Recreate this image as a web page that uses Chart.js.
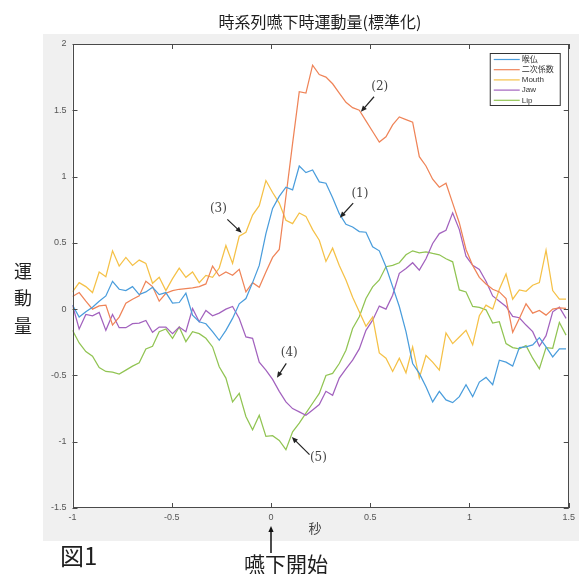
<!DOCTYPE html>
<html>
<head>
<meta charset="utf-8">
<title>時系列嚥下時運動量(標準化)</title>
<script src="https://cdn.jsdelivr.net/npm/chart.js@4.4.0/dist/chart.umd.min.js"></script>
<style>
  html, body { margin: 0; padding: 0; background: #ffffff; }
  #wrap { width: 579px; height: 574px; }
</style>
</head>
<body>
<div id="wrap"><canvas id="chart" width="579" height="574"></canvas></div>
<script>
// サンプリング (秒)
const t0 = -1;
const dt = 0.0336;

const seriesNames = ['喉仏', '二次係数', 'Mouth', 'Jaw', 'Lip'];
const seriesColors = ['#4a9ddc', '#ef8458', '#f5c147', '#a262be', '#91c453'];

// 喉仏
const throat = [
  0.03, -0.06, -0.02, 0.015, 0.06, 0.1, 0.21, 0.15, 0.14, 0.17,
  0.11, 0.13, 0.165, 0.11, 0.125, 0.045, 0.05, 0.12, -0.045, -0.095,
  -0.11, -0.17, -0.235, -0.16, -0.07, 0.04, 0.08, 0.2, 0.33, 0.57,
  0.76, 0.85, 0.92, 0.9, 1.08, 1.03, 1.05, 0.96, 0.95, 0.84,
  0.72, 0.64, 0.62, 0.585, 0.58, 0.47, 0.44, 0.32, 0.17, 0.02,
  -0.17, -0.41, -0.485, -0.585, -0.7, -0.62, -0.685, -0.705, -0.66, -0.57,
  -0.66, -0.55, -0.515, -0.57, -0.385, -0.4, -0.43, -0.29, -0.285, -0.27,
  -0.215, -0.285, -0.36, -0.3, -0.3
];
// 二次係数
const quadCoef = [
  0.095, 0.125, 0.06, 0.0, 0.025, 0.03, -0.12, -0.06, 0.045, 0.075,
  0.1, 0.21, 0.17, 0.06, 0.12, 0.14, 0.15, 0.155, 0.16, 0.17,
  0.19, 0.325, 0.25, 0.28, 0.255, 0.3, 0.13, 0.2, 0.165, 0.28,
  0.39, 0.45, 0.85, 1.25, 1.64, 1.63, 1.84, 1.77, 1.75, 1.7,
  1.63, 1.56, 1.52, 1.5, 1.42, 1.34, 1.26, 1.3, 1.39, 1.45,
  1.43, 1.41, 1.15, 1.08, 0.98, 0.92, 0.95, 0.8, 0.65, 0.45,
  0.33, 0.24, 0.19, 0.15, 0.13, 0.08, -0.175, -0.07, 0.04, -0.03,
  -0.01, -0.045, 0.0, 0.01, 0.005
];
// Mouth
const mouth = [
  0.13, 0.2, 0.17, 0.125, 0.28, 0.245, 0.44, 0.325, 0.39, 0.33,
  0.37, 0.345, 0.195, 0.24, 0.14, 0.23, 0.31, 0.24, 0.28, 0.2,
  0.255, 0.24, 0.31, 0.48, 0.345, 0.55, 0.58, 0.71, 0.78, 0.97,
  0.88, 0.8, 0.67, 0.645, 0.725, 0.7, 0.6, 0.52, 0.36, 0.46,
  0.33, 0.22, 0.09, -0.02, -0.13, -0.06, -0.33, -0.37, -0.47, -0.37,
  -0.48, -0.285, -0.52, -0.35, -0.4, -0.46, -0.18, -0.26, -0.21, -0.16,
  -0.27, -0.05, 0.03, 0.0, 0.15, 0.265, 0.075, 0.145, 0.135, 0.18,
  0.2, 0.445, 0.14, 0.075, 0.075
];
// Jaw
const jaw = [
  0.03, -0.15, -0.04, -0.05, -0.025, -0.16, -0.04, -0.14, -0.14, -0.11,
  -0.105, -0.085, -0.175, -0.135, -0.135, -0.185, -0.135, -0.17, 0.005, -0.095,
  -0.01, -0.05, -0.03, 0.0, 0.02, -0.07, -0.21, -0.22, -0.4, -0.46,
  -0.53, -0.62, -0.7, -0.75, -0.775, -0.8, -0.76, -0.72, -0.62, -0.65,
  -0.52, -0.45, -0.385, -0.3, -0.16, -0.083, 0.023, 0.0, 0.105, 0.27,
  0.307, 0.35, 0.294, 0.38, 0.495, 0.57, 0.595, 0.726, 0.6, 0.4,
  0.33, 0.3, 0.21, 0.1, 0.06, 0.02, -0.055, -0.065, -0.12, -0.17,
  -0.28, -0.2, -0.02, 0.015, -0.07
];
// Lip
const lip = [
  -0.16, -0.255, -0.32, -0.355, -0.44, -0.47, -0.475, -0.49, -0.46, -0.43,
  -0.405, -0.3, -0.28, -0.17, -0.15, -0.22, -0.135, -0.245, -0.17, -0.185,
  -0.22, -0.285, -0.435, -0.52, -0.7, -0.635, -0.81, -0.91, -0.8, -0.96,
  -0.955, -0.99, -1.06, -0.925, -0.86, -0.785, -0.71, -0.636, -0.5, -0.485,
  -0.41, -0.31, -0.146, -0.058, 0.08, 0.168, 0.22, 0.32, 0.33, 0.35,
  0.41, 0.44, 0.425, 0.432, 0.42, 0.41, 0.38, 0.357, 0.145, 0.13,
  0.02, 0.013, -0.005, -0.105, -0.095, -0.26, -0.29, -0.3, -0.275, -0.37,
  -0.45, -0.29, -0.295, -0.1, -0.196
];

const xTicks = [-1, -0.5, 0, 0.5, 1, 1.5];
const yTicks = [2, 1.5, 1, 0.5, 0, -0.5, -1, -1.5];

// 注釈 (データ座標): テキスト位置, 矢印の始点, 矢印の先端
const notes = [
  { text: '(1)', tx: 0.448, ty: 0.873, sx: 0.414, sy: 0.80, hx: 0.347, hy: 0.69 },
  { text: '(2)', tx: 0.548, ty: 1.677, sx: 0.519, sy: 1.602, hx: 0.453, hy: 1.489 },
  { text: '(3)', tx: -0.265, ty: 0.755, sx: -0.22, sy: 0.677, hx: -0.148, hy: 0.576 },
  { text: '(4)', tx: 0.092, ty: -0.329, sx: 0.077, sy: -0.409, hx: 0.03, hy: -0.517 },
  { text: '(5)', tx: 0.239, ty: -1.124, sx: 0.194, sy: -1.097, hx: 0.105, hy: -0.965 }
];

const allSeries = [throat, quadCoef, mouth, jaw, lip];
const times = throat.map((_, i) => t0 + i * dt);

function drawArrow(ctx, x1, y1, x2, y2) {
    const ang = Math.atan2(y2 - y1, x2 - x1);
    const len = 6, wid = 2.6;
    ctx.beginPath();
    ctx.moveTo(x1, y1);
    ctx.lineTo(x2 - Math.cos(ang) * len * 0.6, y2 - Math.sin(ang) * len * 0.6);
    ctx.stroke();
    ctx.beginPath();
    ctx.moveTo(x2, y2);
    ctx.lineTo(x2 - Math.cos(ang) * len - Math.sin(ang) * wid, y2 - Math.sin(ang) * len + Math.cos(ang) * wid);
    ctx.lineTo(x2 - Math.cos(ang) * len + Math.sin(ang) * wid, y2 - Math.sin(ang) * len - Math.cos(ang) * wid);
    ctx.closePath();
    ctx.fill();
}

const figurePlugin = {
    id: 'figureDecor',
    beforeDraw(chart) {
        const ctx = chart.ctx;
        const a = chart.chartArea;
        ctx.save();
        ctx.fillStyle = '#ffffff';
        ctx.fillRect(0, 0, chart.width, chart.height);
        // MATLAB風の灰色パネル
        ctx.fillStyle = '#f0f0f0';
        ctx.fillRect(43, 34, chart.width - 43, 507);
        ctx.fillStyle = '#ffffff';
        ctx.fillRect(a.left, a.top, a.right - a.left, a.bottom - a.top);
        ctx.restore();
    },
    afterDatasetsDraw(chart) {
        const ctx = chart.ctx;
        const a = chart.chartArea;
        const xs = chart.scales.x, ys = chart.scales.y;
        ctx.save();

        // 枠と内向きの目盛り
        ctx.strokeStyle = '#4a4a4a';
        ctx.lineWidth = 1;
        ctx.strokeRect(Math.round(a.left) + 0.5, Math.round(a.top) + 0.5,
            Math.round(a.right - a.left) - 1, Math.round(a.bottom - a.top) - 1);
        ctx.beginPath();
        xTicks.forEach(v => {
            const px = Math.round(xs.getPixelForValue(v)) + 0.5;
            ctx.moveTo(px, a.bottom); ctx.lineTo(px, a.bottom - 5);
            ctx.moveTo(px, a.top); ctx.lineTo(px, a.top + 5);
        });
        yTicks.forEach(v => {
            const py = Math.round(ys.getPixelForValue(v)) + 0.5;
            ctx.moveTo(a.left, py); ctx.lineTo(a.left + 5, py);
            ctx.moveTo(a.right, py); ctx.lineTo(a.right - 5, py);
        });
        ctx.stroke();

        // 凡例
        const lx = a.right - 79, ly = a.top + 9, lw = 70, lh = 52;
        ctx.fillStyle = '#ffffff';
        ctx.fillRect(lx, ly, lw, lh);
        ctx.strokeStyle = '#333333';
        ctx.strokeRect(lx + 0.5, ly + 0.5, lw, lh);
        ctx.font = '8px "Liberation Sans", "Noto Sans CJK JP", sans-serif';
        ctx.textBaseline = 'middle';
        ctx.textAlign = 'left';
        chart.data.datasets.forEach((ds, i) => {
            const ry = ly + 6.5 + i * 10.2;
            ctx.strokeStyle = ds.borderColor;
            ctx.lineWidth = 1.2;
            ctx.beginPath();
            ctx.moveTo(lx + 4, ry); ctx.lineTo(lx + 30, ry);
            ctx.stroke();
            ctx.fillStyle = '#333333';
            ctx.fillText(ds.label, lx + 32, ry);
        });

        // 注釈 (1)〜(5)
        ctx.strokeStyle = '#222222';
        ctx.lineWidth = 1.2;
        ctx.font = '12px "DejaVu Serif", "Liberation Serif", serif';
        ctx.textAlign = 'center';
        ctx.textBaseline = 'middle';
        notes.forEach(n => {
            ctx.fillStyle = '#444444';
            ctx.fillText(n.text, xs.getPixelForValue(n.tx), ys.getPixelForValue(n.ty));
            ctx.fillStyle = '#222222';
            drawArrow(ctx, xs.getPixelForValue(n.sx), ys.getPixelForValue(n.sy),
                xs.getPixelForValue(n.hx), ys.getPixelForValue(n.hy));
        });
        ctx.restore();
    },
    afterDraw(chart) {
        const ctx = chart.ctx;
        const xs = chart.scales.x;
        ctx.save();
        ctx.fillStyle = '#1e1e1e';
        ctx.textAlign = 'center';
        ctx.textBaseline = 'middle';

        ctx.font = '16px "Noto Sans CJK JP", sans-serif';
        ctx.fillText('時系列嚥下時運動量(標準化)', 320, 22);

        ctx.font = '18px "Noto Sans CJK JP", sans-serif';
        ['運', '動', '量'].forEach((c, i) => ctx.fillText(c, 23, 271 + i * 27.5));

        ctx.fillStyle = '#444444';
        ctx.font = '13px "Noto Sans CJK JP", sans-serif';
        ctx.fillText('秒', 315, 528);

        ctx.fillStyle = '#1e1e1e';
        ctx.font = '24px "Noto Sans CJK JP", sans-serif';
        ctx.textAlign = 'left';
        ctx.fillText('図1', 60, 556);

        ctx.textAlign = 'center';
        ctx.font = '21px "Noto Sans CJK JP", sans-serif';
        const x0 = xs.getPixelForValue(0);
        ctx.fillText('嚥下開始', x0 + 15, 564);

        ctx.strokeStyle = '#111111';
        ctx.fillStyle = '#111111';
        ctx.lineWidth = 1.5;
        drawArrow(ctx, x0, 553, x0, 526);
        ctx.restore();
    }
};

// 目盛りラベル: 2, 1.5, 1, 0.5, 0, -0.5 ...
const tickLabel = v => String(v);

new Chart(document.getElementById('chart').getContext('2d'), {
    type: 'line',
    data: {
        datasets: allSeries.map((vals, k) => ({
            label: seriesNames[k],
            data: vals.map((v, i) => ({ x: times[i], y: v })),
            borderColor: seriesColors[k],
            backgroundColor: seriesColors[k],
            borderWidth: 1.25,
            pointRadius: 0,
            tension: 0,
            fill: false
        }))
    },
    options: {
        responsive: false,
        animation: false,
        devicePixelRatio: 1,
        layout: { padding: { left: 42.5, right: 7, top: 44, bottom: 46 } },
        plugins: {
            legend: { display: false },
            title: { display: false },
            tooltip: { enabled: false }
        },
        scales: {
            x: {
                type: 'linear',
                min: -1,
                max: 1.5,
                afterFit: scale => { scale.height = 20; },
                afterBuildTicks: scale => { scale.ticks = xTicks.map(v => ({ value: v })); },
                grid: { display: false, drawTicks: false },
                border: { display: false },
                ticks: {
                    color: '#555555',
                    padding: 4,
                    maxRotation: 0,
                    callback: tickLabel,
                    font: { family: '"Liberation Sans", sans-serif', size: 9 }
                }
            },
            y: {
                type: 'linear',
                min: -1.5,
                max: 2,
                afterFit: scale => { scale.width = 30; },
                afterBuildTicks: scale => { scale.ticks = yTicks.map(v => ({ value: v })); },
                grid: { display: false, drawTicks: false },
                border: { display: false },
                ticks: {
                    color: '#555555',
                    padding: 6,
                    callback: tickLabel,
                    font: { family: '"Liberation Sans", sans-serif', size: 9 }
                }
            }
        }
    },
    plugins: [figurePlugin]
});
</script>
</body>
</html>
